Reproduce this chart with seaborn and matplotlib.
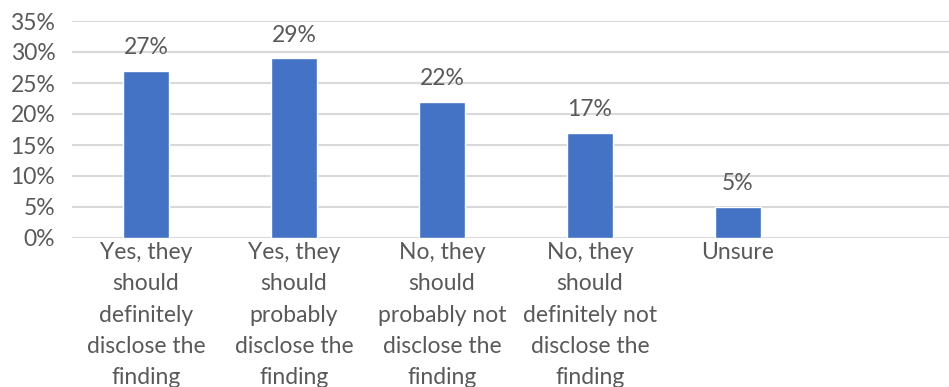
import matplotlib
matplotlib.use("Agg")
import matplotlib.pyplot as plt
import seaborn as sns
import pandas as pd

categories = [
    "Yes, they\nshould\ndefinitely\ndisclose the\nfinding",
    "Yes, they\nshould\nprobably\ndisclose the\nfinding",
    "No, they\nshould\nprobably not\ndisclose the\nfinding",
    "No, they\nshould\ndefinitely not\ndisclose the\nfinding",
    "Unsure",
]
values = [27, 29, 22, 17, 5]
yticks = [0, 5, 10, 15, 20, 25, 30, 35]
ytick_labels = ["0%", "5%", "10%", "15%", "20%", "25%", "30%", "35%"]

sns.set_theme(style="white")
plt.rcParams["font.family"] = ["Lato", "DejaVu Sans"]

TXT = "#595959"
FS = 16.5
fig = plt.figure(figsize=(9.49, 3.87), dpi=100)
ax = fig.add_axes([72 / 949, 1 - 238 / 387, 1 - 72 / 949, (238 - 21) / 387])

df = pd.DataFrame({"cat": categories, "val": values})
sns.barplot(data=df, x="cat", y="val", color="#4472C4", width=0.31, ax=ax,
            saturation=1, zorder=3)

ax.set_xlim(-0.5, (949 - 72) / 148 - 0.5)
ax.set_ylim(0, 35)
ax.set_yticks(yticks)
ax.set_yticklabels(ytick_labels)
ax.yaxis.grid(True, color="#d9d9d9", linewidth=1.5, zorder=0)
ax.set_axisbelow(True)
for s in ax.spines.values():
    s.set_visible(False)
ax.tick_params(axis="both", length=0, colors=TXT, labelsize=FS)
ax.tick_params(axis="y", pad=12)
ax.tick_params(axis="x", pad=3)
for lbl in ax.get_xticklabels():
    lbl.set_linespacing(1.6)
    lbl.set_color(TXT)
ax.set_xlabel("")
ax.set_ylabel("")

for i, v in enumerate(values):
    ax.annotate(f"{v}%", (i, v), xytext=(0, 9), textcoords="offset points",
                ha="center", va="bottom", fontsize=FS, color=TXT)

fig.savefig("out.png", dpi=100)
